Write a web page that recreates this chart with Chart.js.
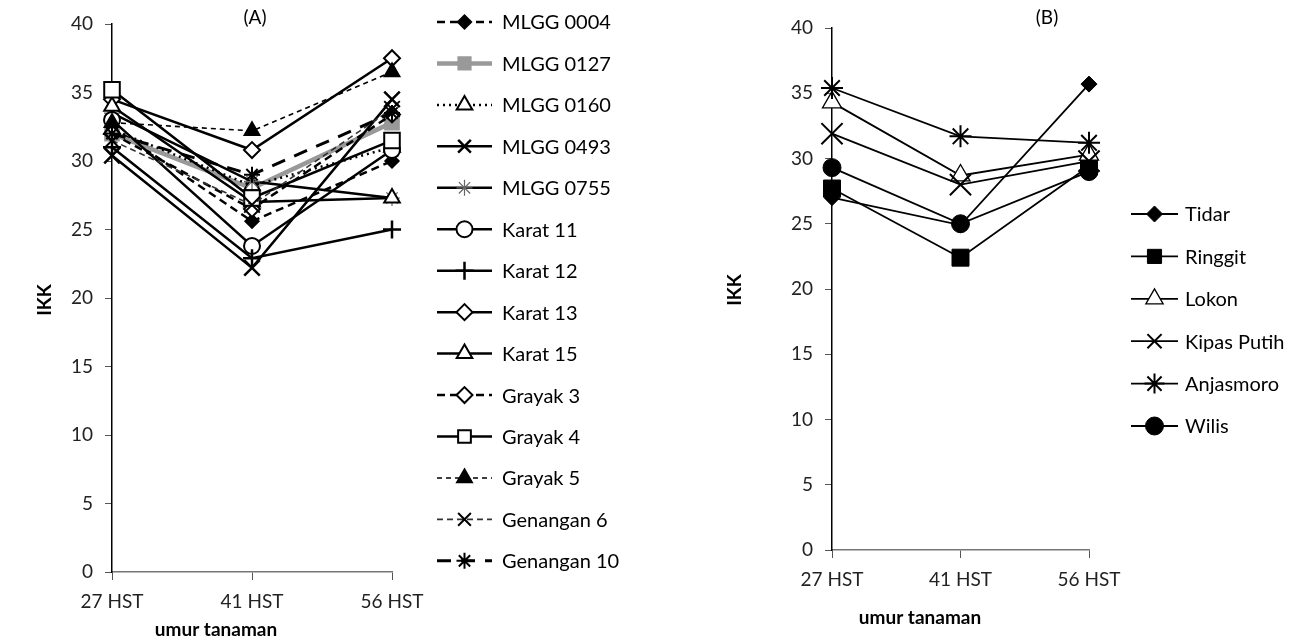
<!DOCTYPE html>
<html><head><meta charset="utf-8">
<script src="https://cdn.jsdelivr.net/npm/chart.js@4/dist/chart.umd.min.js"></script>
<style>
html,body{margin:0;padding:0;background:#fff;width:1304px;height:643px;overflow:hidden}
#a{position:absolute;left:0;top:0;width:650px;height:643px}
#b{position:absolute;left:680px;top:0;width:624px;height:643px}
</style></head><body>
<div id="a"><canvas id="ca"></canvas></div>
<div id="b"><canvas id="cb"></canvas></div>
<script>
// ---------- DATA ----------
const categories = ['27 HST', '41 HST', '56 HST'];
const yMin = 0, yMax = 40, yStep = 5;

// Panel A
const namesA = ['MLGG 0004','MLGG 0127','MLGG 0160','MLGG 0493','MLGG 0755','Karat 11','Karat 12',
                'Karat 13','Karat 15','Grayak 3','Grayak 4','Grayak 5','Genangan 6','Genangan 10'];
const mlgg0004   = [32.5, 25.6, 30.0];
const mlgg0127   = [32.0, 28.0, 32.8];
const mlgg0160   = [32.3, 28.2, 31.0];
const mlgg0493   = [30.4, 22.2, 34.5];
const mlgg0755   = [33.5, 28.5, 27.3];
const karat11    = [33.0, 23.8, 30.8];
const karat12    = [31.0, 22.9, 25.0];
const karat13    = [34.5, 30.8, 37.5];
const karat15    = [34.0, 27.0, 27.3];
const grayak3    = [32.0, 26.5, 33.4];
const grayak4    = [35.2, 27.3, 31.5];
const grayak5    = [32.8, 32.2, 36.5];
const genangan6  = [31.5, 26.8, 33.8];
const genangan10 = [32.0, 29.0, 33.5];
const valuesA = [mlgg0004, mlgg0127, mlgg0160, mlgg0493, mlgg0755, karat11, karat12,
                 karat13, karat15, grayak3, grayak4, grayak5, genangan6, genangan10];

// Panel B
const namesB = ['Tidar','Ringgit','Lokon','Kipas Putih','Anjasmoro','Wilis'];
const tidar     = [27.0, 24.9, 35.7];
const ringgit   = [27.7, 22.4, 29.4];
const lokon     = [34.3, 28.7, 30.3];
const kipasPutih= [31.9, 28.0, 29.8];
const anjasmoro = [35.4, 31.7, 31.2];
const wilis     = [29.3, 25.0, 29.0];
const valuesB = [tidar, ringgit, lokon, kipasPutih, anjasmoro, wilis];

// ---------- STYLES ----------
const W = '#ffffff', K = '#000000', G = '#999999';
const stylesA = [
  {dash:[8,5], w:2.5, c:K, ps:'rectRot', r:7,  bg:K, bc:K, bw:1.5},
  {dash:[],    w:4.5, c:G, ps:'rect',    r:10, bg:G, bc:G, bw:1.5},
  {dash:[2,4], w:2.5, c:K, ps:'triangle',r:9,  bg:W, bc:K, bw:2},
  {dash:[],    w:2.5, c:K, ps:'crossRot',r:11, bg:K, bc:K, bw:2.5},
  {dash:[],    w:2.5, c:K, ps:'star',    r:8,  bg:G, bc:'#666', bw:1.2},
  {dash:[],    w:2.5, c:K, ps:'circle',  r:8,  bg:W, bc:K, bw:2},
  {dash:[],    w:2.5, c:K, ps:'cross',   r:9,  bg:K, bc:K, bw:2.5},
  {dash:[],    w:2.5, c:K, ps:'rectRot', r:8,  bg:W, bc:K, bw:2},
  {dash:[],    w:2.5, c:K, ps:'triangle',r:9,  bg:W, bc:K, bw:2},
  {dash:[8,5], w:2.5, c:K, ps:'rectRot', r:8,  bg:W, bc:K, bw:2},
  {dash:[],    w:2.5, c:K, ps:'rect',    r:11, bg:W, bc:K, bw:2},
  {dash:[5,4], w:1.6, c:K, ps:'triangle',r:9,  bg:K, bc:K, bw:1.5},
  {dash:[6,4], w:1.6, c:'#333', ps:'crossRot',r:11, bg:K, bc:K, bw:2},
  {dash:[14,10], w:3, c:K, ps:'star',    r:8,  bg:K, bc:K, bw:2}
];
const stylesB = [
  {dash:[], w:1.8, c:K, ps:'rectRot', r:8,  bg:K, bc:K, bw:1},
  {dash:[], w:1.8, c:K, ps:'rect',    r:12, bg:K, bc:K, bw:1},
  {dash:[], w:1.8, c:K, ps:'triangle',r:11, bg:W, bc:K, bw:1.3},
  {dash:[], w:1.8, c:K, ps:'crossRot',r:15, bg:K, bc:K, bw:2},
  {dash:[], w:1.8, c:K, ps:'star',    r:11, bg:K, bc:K, bw:2},
  {dash:[], w:1.8, c:K, ps:'circle',  r:9,  bg:K, bc:K, bw:1}
];

const FONT = 'Lato, "Open Sans", sans-serif';

function makeDatasets(names, values, styles) {
  return names.map((n, i) => ({
    label: n, data: values[i], order: names.length - i,
    borderColor: styles[i].c, borderWidth: styles[i].w, borderDash: styles[i].dash,
    pointStyle: styles[i].ps, pointRadius: styles[i].r,
    pointBackgroundColor: styles[i].bg, pointBorderColor: styles[i].bc,
    pointBorderWidth: styles[i].bw, tension: 0, fill: false, _st: styles[i]
  }));
}

function drawMarker(ctx, st, x, y) {
  ctx.save();
  ctx.setLineDash([]);
  ctx.fillStyle = st.bg; ctx.strokeStyle = st.bc; ctx.lineWidth = st.bw;
  if (Chart.helpers && Chart.helpers.drawPoint) {
    Chart.helpers.drawPoint(ctx, {pointStyle: st.ps, radius: st.r, rotation: 0, borderWidth: st.bw}, x, y);
  }
  ctx.restore();
}

const decor = {
  id: 'decor',
  afterDraw(chart, args, o) {
    const ctx = chart.ctx;
    ctx.save();
    ctx.fillStyle = '#000';
    ctx.textBaseline = 'middle';
    ctx.textAlign = 'center';
    ctx.font = '19px ' + FONT;
    ctx.fillText(o.label, o.labelX, o.labelY);
    ctx.font = 'bold 19px ' + FONT;
    ctx.fillText('umur tanaman', o.xtX, o.xtY);
    ctx.save(); ctx.translate(o.ytX, o.ytY); ctx.rotate(-Math.PI / 2);
    ctx.fillText('IKK', 0, 0); ctx.restore();
    // legend
    ctx.textAlign = 'left';
    ctx.font = o.legFont + 'px ' + FONT;
    chart.data.datasets.forEach((ds, i) => {
      const st = ds._st;
      const y = o.legY + i * o.legStep;
      ctx.save();
      ctx.strokeStyle = st.c; ctx.lineWidth = st.w; ctx.setLineDash(st.dash);
      ctx.beginPath(); ctx.moveTo(o.legX0, y); ctx.lineTo(o.legX1, y); ctx.stroke();
      ctx.restore();
      drawMarker(ctx, Object.assign({}, st, {r: Math.min(st.r, o.legR)}), (o.legX0 + o.legX1) / 2, y);
      ctx.fillStyle = '#000';
      ctx.fillText(ds.label, o.legTx, y + 1);
    });
    ctx.restore();
  }
};

function makeChart(id, names, values, styles, pad, yW, xH, deco) {
  return new Chart(document.getElementById(id), {
    type: 'line',
    data: { labels: categories, datasets: makeDatasets(names, values, styles) },
    options: {
      responsive: true, maintainAspectRatio: false, animation: false, events: [],
      layout: { padding: pad },
      plugins: { legend: {display: false}, tooltip: {enabled: false}, decor: deco },
      scales: {
        x: {
          offset: false,
          grid: { display: true, drawOnChartArea: false, drawTicks: true, tickLength: 8, color: '#555' },
          border: { display: true, color: '#777', width: 1.5 },
          ticks: { color: '#222', font: {family: FONT, size: 19}, padding: 10, autoSkip: false, maxRotation: 0 },
          afterFit(s) { s.height = xH; }
        },
        y: {
          min: yMin, max: yMax,
          grid: { display: true, drawOnChartArea: false, drawTicks: true, tickLength: 7, color: '#555' },
          border: { display: true, color: '#000', width: 1.5 },
          ticks: { stepSize: yStep, color: '#222', font: {family: FONT, size: 19}, padding: 12 },
          afterFit(s) { s.width = yW; }
        }
      }
    },
    plugins: [decor]
  });
}

makeChart('ca', namesA, valuesA, stylesA, {left:0, top:24, right:258, bottom:0}, 112, 71,
  {label:'(A)', labelX:255, labelY:18, xtX:216, xtY:630, ytX:45, ytY:300, legR:9,
   legFont:20, legY:22, legStep:41.45, legX0:437, legX1:492, legTx:502});
makeChart('cb', namesB, valuesB, stylesB, {left:0, top:28, right:215, bottom:0}, 152, 93,
  {label:'(B)', labelX:367, labelY:18, xtX:240, xtY:618, ytX:55, ytY:290, legR:10,
   legFont:20, legY:214, legStep:42.4, legX0:451, legX1:498, legTx:505});
</script>
</body></html>
